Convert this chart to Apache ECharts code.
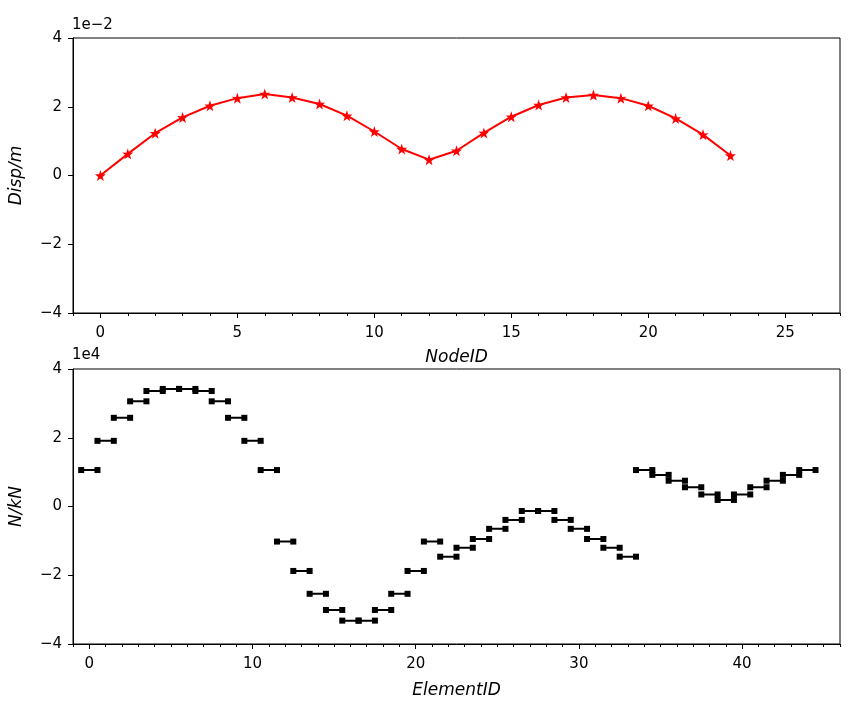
<!DOCTYPE html>
<html lang="en">
<head>
<meta charset="UTF-8">
<title>Disp / N</title>
<style>
    html,body{margin:0;padding:0;background:#fff;}
    #container{width:865px;height:702px;}
</style>
<script src="https://cdn.jsdelivr.net/npm/echarts@6/dist/echarts.min.js"></script>
</head>
<body>
<div id="container"></div>
<script type="text/javascript">
    // node displacement (m)
    var nodeIds = [0,1,2,3,4,5,6,7,8,9,10,11,12,13,14,15,16,17,18,19,20,21,22,23];
    var disp = [0, 0.0063, 0.0123, 0.0169, 0.0203, 0.0225, 0.0237, 0.0227, 0.0208, 0.0174, 0.0128, 0.0077,
                0.0046, 0.0072, 0.0124, 0.0171, 0.0205, 0.0227, 0.0234, 0.0225, 0.0203, 0.0166, 0.0119, 0.0058];

    // element axial force (kN)
    var elemIds = [];
    for (let i = 0; i < 45; i++) elemIds.push(i);
    var axialForce = [10600, 19100, 25800, 30600, 33600, 34200, 34200, 33600, 30600, 25800, 19100, 10600,
                      -10200, -18750, -25400, -30100, -33200, -33200, -30100, -25400, -18750, -10200,
                      -14600, -12000, -9450, -6500, -3900, -1300, -1300, -3900, -6500, -9450, -12000, -14600,
                      10600, 9200, 7500, 5600, 3500, 1900, 3500, 5600, 7500, 9200, 10600];

    var nodeTicks = [0, 5, 10, 15, 20, 25];
    var elemTicks = [0, 10, 20, 30, 40];

    var nodeMinor = [], elemMinor = [];
    for (let i = -1; i <= 27; i++) if (nodeTicks.indexOf(i) < 0) nodeMinor.push(i);
    for (let i = -1; i <= 46; i++) if (elemTicks.indexOf(i) < 0) elemMinor.push(i);

    var font = 'DejaVu Sans';
    var star = 'path://M50,0 L61.8,35.4 L97.6,34.5 L69.1,57.3 L79.4,90.5 L50,70.5 L20.6,90.5 L30.9,57.3 L2.4,34.5 L38.2,35.4 Z';

    function minus(n) { return n < 0 ? '\u2212' + (-n) : '' + n; }

    var dispData = nodeIds.map((id, i) => [id, disp[i]]);
    var forceData = [];
    elemIds.forEach((id, i) => {
        forceData.push([id - 0.5, axialForce[i]]);
        forceData.push([id + 0.5, axialForce[i]]);
        forceData.push([id + 0.5, '-']);
    });

    function mainX(idx, min, max, ticks, name, gap) {
        return {
            type: 'value', gridIndex: idx, min: min, max: max, position: 'bottom',
            name: name, nameLocation: 'middle', nameGap: gap,
            nameTextStyle: {fontFamily: font, fontSize: 17, fontStyle: 'italic', color: '#000'},
            axisLine: {show: true, onZero: false, lineStyle: {color: '#000', width: 1}},
            axisTick: {show: true, length: 5, customValues: ticks, lineStyle: {color: '#000'}},
            axisLabel: {customValues: ticks, margin: 13, fontFamily: font, fontSize: 15, color: '#000'},
            splitLine: {show: false}
        };
    }
    function minorX(idx, min, max, ticks) {
        return {
            type: 'value', gridIndex: idx, min: min, max: max, position: 'bottom',
            axisLine: {show: false, onZero: false},
            axisTick: {show: true, length: 3, customValues: ticks, lineStyle: {color: '#000'}},
            axisLabel: {show: false},
            splitLine: {show: false}
        };
    }
    function mainY(idx, lim, step, scale, name) {
        return {
            type: 'value', gridIndex: idx, min: -lim, max: lim, interval: step, position: 'left',
            name: name, nameLocation: 'middle', nameGap: 48, nameRotate: 90,
            nameTextStyle: {fontFamily: font, fontSize: 17, fontStyle: 'italic', color: '#000'},
            axisLine: {show: true, onZero: false, lineStyle: {color: '#000', width: 1}},
            axisTick: {show: true, length: 5, lineStyle: {color: '#000'}},
            axisLabel: {margin: 11, fontFamily: font, fontSize: 15, color: '#000',
                formatter: v => minus(Math.round(v * scale))},
            splitLine: {show: false}
        };
    }

    var myChart = echarts.init(document.getElementById('container'));
    var option = {
        animation: false,
        backgroundColor: '#fff',
        grid: [
            {left: 72, right: 25, top: 38, height: 275, show: true, borderColor: '#000', borderWidth: 1},
            {left: 72, right: 25, top: 369, height: 275, show: true, borderColor: '#000', borderWidth: 1}
        ],
        xAxis: [
            mainX(0, -1, 27, nodeTicks, 'NodeID', 36),
            minorX(0, -1, 27, nodeMinor),
            mainX(1, -1, 46, elemTicks, 'ElementID', 38),
            minorX(1, -1, 46, elemMinor)
        ],
        yAxis: [
            mainY(0, 0.04, 0.02, 100, 'Disp/m'),
            mainY(1, 40000, 20000, 1e-4, 'N/kN')
        ],
        graphic: [
            {type: 'text', left: 72, top: 18, style: {text: '1e\u22122', font: '15px "DejaVu Sans"', fill: '#000'}},
            {type: 'text', left: 72, top: 348, style: {text: '1e4', font: '15px "DejaVu Sans"', fill: '#000'}}
        ],
        series: [
            {
                type: 'line', xAxisIndex: 0, yAxisIndex: 0, data: dispData,
                symbol: star, symbolSize: 11, showAllSymbol: true,
                lineStyle: {color: '#ff0000', width: 2},
                itemStyle: {color: '#ff0000'}
            },
            {
                type: 'line', xAxisIndex: 2, yAxisIndex: 1, data: forceData,
                connectNulls: false, symbol: 'rect', symbolSize: 6, showAllSymbol: true,
                lineStyle: {color: '#000', width: 2},
                itemStyle: {color: '#000'}
            }
        ]
    };
    myChart.setOption(option);
</script>
</body>
</html>
